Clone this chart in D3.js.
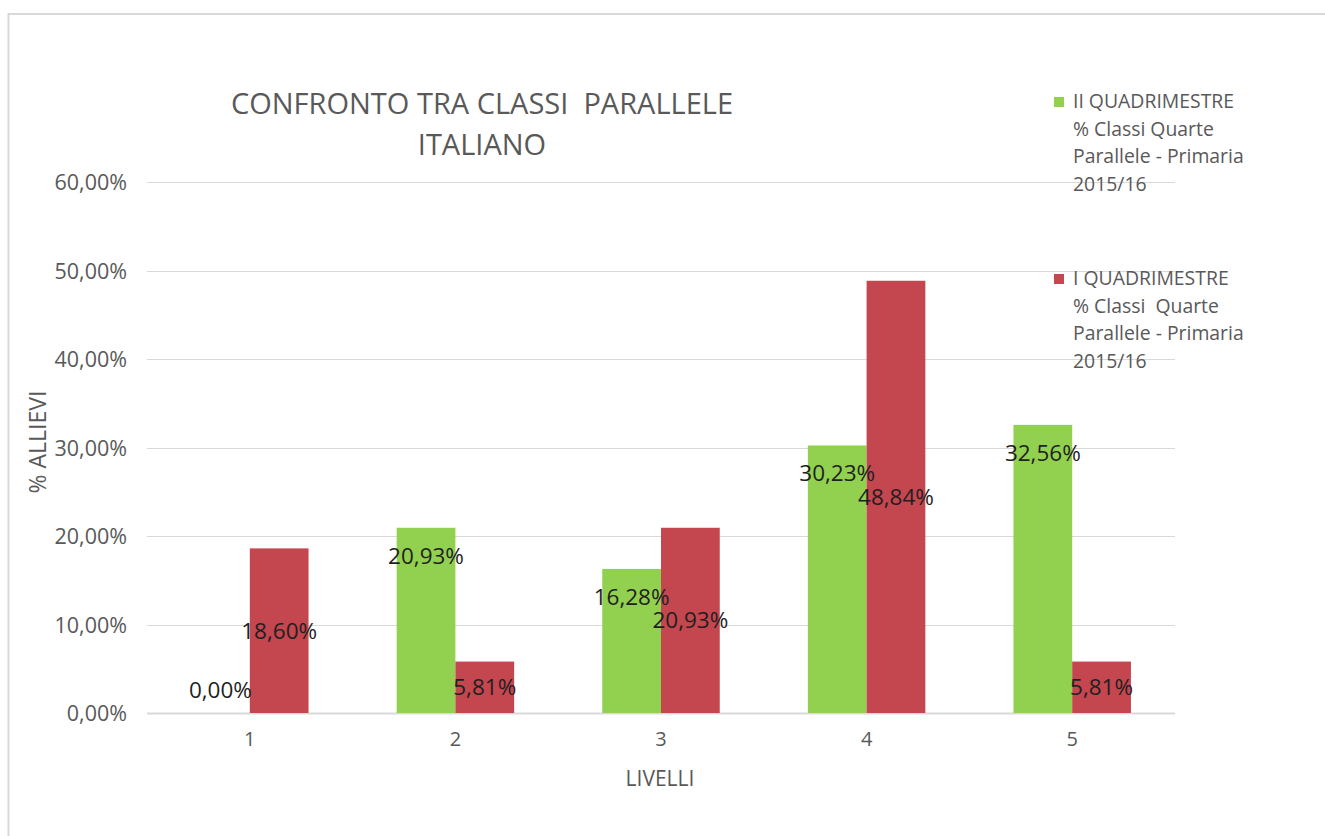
<!DOCTYPE html>
<html>
<head>
<meta charset="utf-8">
<script src="https://cdn.jsdelivr.net/npm/d3@7/dist/d3.min.js"></script>
<style>
  html, body { margin: 0; padding: 0; background: #ffffff; }
  svg { display: block; }
  text { font-family: "Open Sans", "Noto Sans", sans-serif; white-space: pre; }
</style>
</head>
<body>
<svg id="chart" width="1325" height="836"></svg>
<script>
// ---- data ----
const categories = ["1", "2", "3", "4", "5"];
const seriesNames = ["II QUADRIMESTRE", "I QUADRIMESTRE"];
const legendLines = [
  ["II QUADRIMESTRE", "% Classi Quarte", "Parallele - Primaria", "2015/16"],
  ["I QUADRIMESTRE", "% Classi  Quarte", "Parallele - Primaria", "2015/16"]
];
const valuesII = [0.00, 20.93, 16.28, 30.23, 32.56];
const valuesI = [18.60, 5.81, 20.93, 48.84, 5.81];
const yTicks = [0, 10, 20, 30, 40, 50, 60];
const titleLines = ["CONFRONTO TRA CLASSI  PARALLELE", "ITALIANO"];
const yTitle = "% ALLIEVI";
const xTitle = "LIVELLI";

const colors = ["#92d050", "#c4464f"];

const svg = d3.select("#chart");

// chart border
svg.append("rect")
  .attr("x", 8.5).attr("y", 14).attr("width", 1400).attr("height", 900)
  .attr("fill", "#fff").attr("stroke", "#d9d9d9").attr("stroke-width", 2);

const plot = { left: 147, right: 1175, top: 182, bottom: 713 };

const y = d3.scaleLinear().domain([0, 60]).range([plot.bottom, plot.top]);
const x = d3.scaleBand().domain(categories).range([plot.left, plot.right])
  .paddingInner(1.5 / 3.5).paddingOuter(0.75 / 3.5);
const xSub = d3.scaleBand().domain(seriesNames).range([0, x.bandwidth()]);

const fmt = v => d3.format(".2f")(v).replace(".", ",") + "%";

// gridlines
const grid = svg.append("g");
grid.selectAll("line").data(yTicks).join("line")
  .attr("x1", plot.left).attr("x2", plot.right)
  .attr("y1", d => Math.round(y(d)) + 0.5).attr("y2", d => Math.round(y(d)) + 0.5)
  .attr("stroke", "#d9d9d9")
  .attr("stroke-width", d => d === 0 ? 2 : 1.2);

// y axis labels
const yAxis = d3.axisLeft(y).tickValues(yTicks).tickFormat(d => fmt(d)).tickSize(0).tickPadding(0);
const yg = svg.append("g").attr("transform", `translate(${plot.left - 20},0)`).call(yAxis);
yg.select(".domain").remove();
yg.selectAll("text").attr("fill", "#595959").style("font-size", "21.5px")
  .attr("dy", "0.35em");

// x axis labels
const xAxis = d3.axisBottom(x).tickSize(0).tickPadding(0);
const xg = svg.append("g").attr("transform", `translate(0,${plot.bottom + 19})`).call(xAxis);
xg.select(".domain").remove();
xg.selectAll("text").attr("fill", "#595959").style("font-size", "20px").attr("dy", "0.71em");

// bars
const series = [valuesII, valuesI];
series.forEach((vals, si) => {
  svg.append("g").selectAll("rect").data(vals.map((v, i) => ({ v, c: categories[i] })))
    .join("rect")
    .attr("x", d => x(d.c) + xSub(seriesNames[si]))
    .attr("width", xSub.bandwidth())
    .attr("y", d => y(d.v))
    .attr("height", d => y(0) - y(d.v))
    .attr("fill", colors[si]);
});

// data labels: series II at inside end, series I centered
const labels = svg.append("g");
series.forEach((vals, si) => {
  labels.selectAll(null).data(vals.map((v, i) => ({ v, c: categories[i] })))
    .join("text")
    .attr("x", d => x(d.c) + xSub(seriesNames[si]) + xSub.bandwidth() / 2)
    .attr("y", d => {
      if (si === 0) return Math.min(y(d.v) + 28, y(0) - 23);
      return Math.min(y(d.v / 2), y(0) - 24);
    })
    .attr("dy", "0.35em")
    .attr("text-anchor", "middle")
    .attr("fill", "#1f1f1f")
    .style("font-size", "22.5px")
    .text(d => fmt(d.v));
});

// title
svg.append("g").selectAll("text").data(titleLines).join("text")
  .attr("x", 482).attr("y", (d, i) => 114 + i * 41)
  .attr("text-anchor", "middle").attr("fill", "#595959")
  .style("font-size", "29px")
  .text(d => d);

// axis titles
svg.append("text")
  .attr("transform", `translate(46,442) rotate(-90)`)
  .attr("text-anchor", "middle").attr("fill", "#595959")
  .style("font-size", "23px").text(yTitle);
svg.append("text")
  .attr("x", 660).attr("y", 786)
  .attr("text-anchor", "middle").attr("fill", "#595959")
  .style("font-size", "21px").text(xTitle);

// legend
const legendTop = [108, 285];
legendLines.forEach((lines, li) => {
  const g = svg.append("g");
  g.append("rect").attr("x", 1054).attr("y", legendTop[li] - 11)
    .attr("width", 10).attr("height", 10).attr("fill", colors[li]);
  g.selectAll("text").data(lines).join("text")
    .attr("x", 1073).attr("y", (d, i) => legendTop[li] + i * 27.5)
    .attr("fill", "#595959").style("font-size", "19.4px")
    .text(d => d);
});
</script>
</body>
</html>
